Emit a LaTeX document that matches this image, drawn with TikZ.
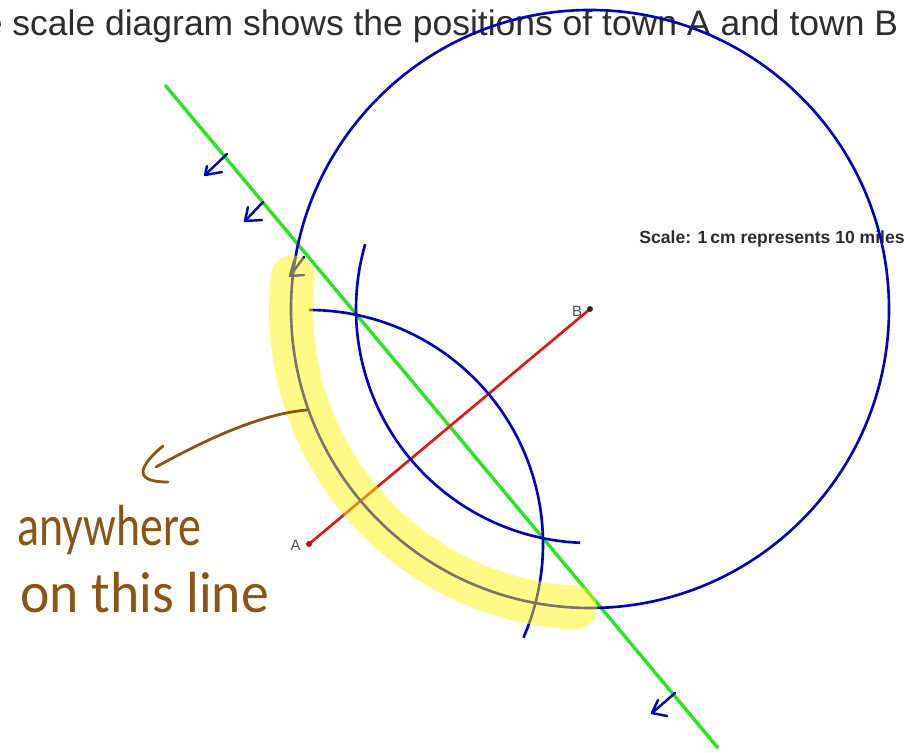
\documentclass[tikz,border=0pt]{standalone}
\usepackage{fontspec}
\setmainfont{Liberation Sans}
\newfontfamily\handfont{Carlito}
\usepackage{graphicx}
\definecolor{cblue}{RGB}{0,0,205}
\definecolor{cgreen}{RGB}{40,230,30}
\definecolor{cred}{RGB}{235,20,20}
\definecolor{cdot}{RGB}{170,20,20}
\definecolor{cyellow}{RGB}{255,245,0}
\definecolor{cbrown}{RGB}{140,85,20}
\definecolor{ctext}{RGB}{45,45,45}
\begin{document}
\begin{tikzpicture}[x=0.02cm,y=-0.02cm,
  blueline/.style={draw=cblue, line width=1.5pt},
  greenline/.style={draw=cgreen, line width=1.9pt},
  redline/.style={draw=cred, line width=1.5pt},
  handarrow/.style={draw=cblue, line width=1.4pt, line cap=round, line join=round},
  brownpen/.style={draw=cbrown, line width=1.6pt, line cap=round, line join=round},
  townlabel/.style={font=\fontsize{8.5pt}{10pt}\selectfont, text=ctext!85, inner sep=0},
  titletext/.style={font=\fontsize{20.2pt}{24pt}\selectfont, text=ctext, inner sep=0},
  scaletext/.style={font=\bfseries\fontsize{10pt}{12pt}\selectfont, text=ctext, inner sep=0},
  handtext/.style={font=\handfont\fontsize{33pt}{36pt}\selectfont, text=cbrown, inner sep=0, anchor=base west},
  highlight/.style={draw=cyellow, opacity=0.48, line width=25pt, line cap=round},
]
\useasboundingbox (0,0) rectangle (909,753);
\clip (0,0) rectangle (909,753);
\fill[white] (0,0) rectangle (909,753);

\coordinate (A) at (309,544);
\coordinate (B) at (590,309);
\coordinate (G1) at (165,85);
\coordinate (G2) at (718,748);

% texts
\node[titletext, anchor=base west] (title) at (-17.5,36) {e scale diagram shows the positions of town A and town B};
\node[scaletext, anchor=base west] (scale) at (639,243) {Scale: 1\,cm represents 10 miles};

% construction
\draw[greenline] (G1) -- (G2);
\draw[redline] (A) -- (B);
\draw[blueline] (B) circle[radius=299];
\draw[blueline] (A) ++(-90:234) arc[start angle=-90, end angle=23.6, radius=234];
\draw[blueline] (B) ++(92.4:234) arc[start angle=92.4, end angle=196.1, radius=234];

\fill[cdot] (A) circle[radius=3];
\fill[ctext] (B) circle[radius=3];
\node[townlabel, anchor=base] (la) at (295.5,550) {A};
\node[townlabel, anchor=base] (lb) at (577,316) {B};

% hand-drawn arrows along the line
\draw[handarrow] (227,154) -- (205,175);
\draw[handarrow] (207,166) -- (205,175) -- (222,172);
\draw[handarrow] (263,202) -- (245,221);
\draw[handarrow] (248,207) -- (245,221) -- (262,220);
\draw[handarrow] (304,257) -- (290,276);
\draw[handarrow] (294,261) -- (290,276) -- (304,275);
\draw[handarrow] (675,693) -- (652,713);
\draw[handarrow] (658,700) -- (652,713) -- (667,716);

% highlight
\draw[highlight] (B) ++(186.1:299) arc[start angle=186.1, end angle=92.9, radius=299];

% annotation
\draw[brownpen] (307,410) .. controls (260,414) and (205,440) .. (156,467);
\draw[brownpen] (163,446) .. controls (152,455) and (143,465) .. (143,472)
  .. controls (143,480) and (155,482) .. (168,482);
\node[handtext] (t1) at (17,545) {\scalebox{0.79}[1]{anywhere}};
\node[handtext] (t2) at (20,612) {\scalebox{0.96}[1]{on this line}};
\end{tikzpicture}
\end{document}
